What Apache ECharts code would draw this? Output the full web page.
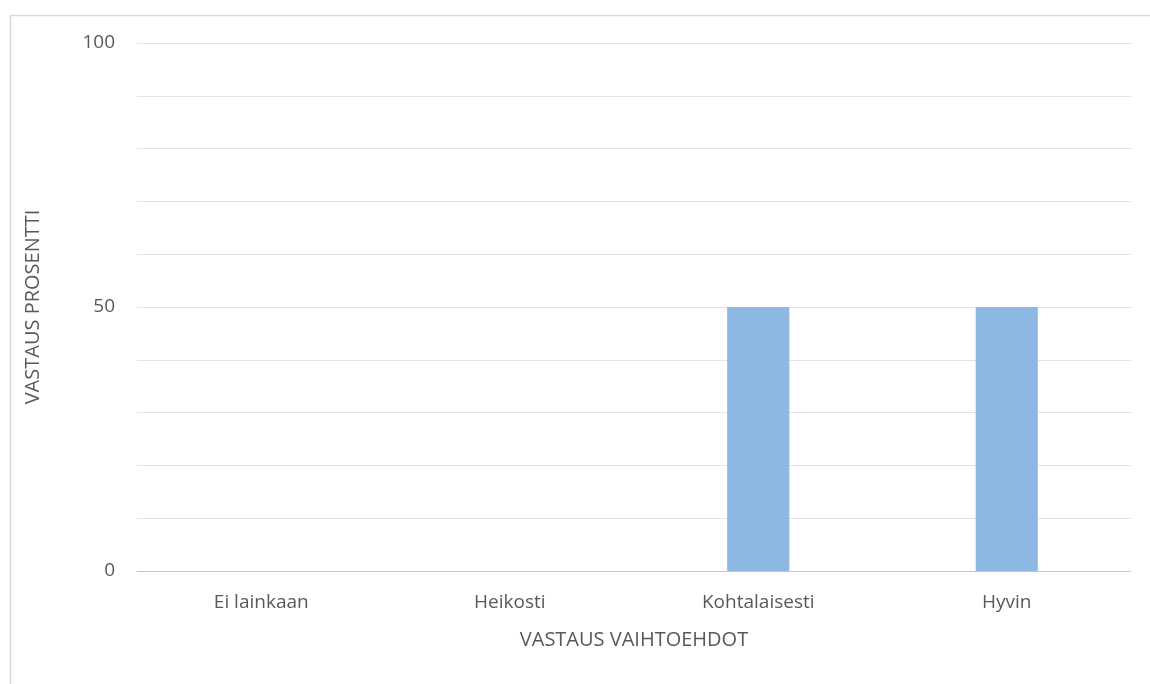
<!DOCTYPE html>
<html>
<head>
<meta charset="utf-8">
<script src="https://cdn.jsdelivr.net/npm/echarts@6/dist/echarts.min.js"></script>
<style>html,body{margin:0;padding:0;background:#fff}#c{width:1150px;height:684px}</style>
</head>
<body>
<div id="c"></div>
<script>
const categories = ['Ei lainkaan', 'Heikosti', 'Kohtalaisesti', 'Hyvin'];
const values = [0, 0, 50, 50];
const yLabels = [0, 50, 100];

const chart = echarts.init(document.getElementById('c'), null, {renderer: 'canvas'});
const font = '"Open Sans", sans-serif';
chart.setOption({
  animation: false,
  backgroundColor: '#fff',
  graphic: [{
    type: 'rect', left: 8, top: 13, z: -1,
    shape: {width: 1300, height: 800},
    style: {fill: 'none', stroke: '#d9d9d9', lineWidth: 1.5}
  }],
  grid: {left: 137, right: 19, top: 43, bottom: 113},
  xAxis: {
    type: 'category',
    data: categories,
    name: 'VASTAUS VAIHTOEHDOT',
    nameLocation: 'middle',
    nameGap: 59,
    nameTextStyle: {color: '#595959', fontSize: 20, fontFamily: font},
    axisLine: {lineStyle: {color: '#c8c8c8', width: 1}},
    axisTick: {show: false},
    axisLabel: {color: '#595959', fontSize: 19, fontFamily: font, margin: 22}
  },
  yAxis: {
    type: 'value',
    min: 0, max: 100, interval: 10,
    name: 'VASTAUS PROSENTTI',
    nameLocation: 'middle',
    nameGap: 94,
    nameTextStyle: {color: '#595959', fontSize: 20, fontFamily: font},
    axisLine: {show: false},
    axisTick: {show: false},
    splitLine: {lineStyle: {color: '#e3e3e3', width: 1}},
    axisLabel: {
      color: '#595959', fontSize: 19, fontFamily: font, margin: 22,
      formatter: v => (yLabels.indexOf(v) >= 0 ? String(v) : '')
    }
  },
  series: [{
    type: 'bar',
    data: values,
    barWidth: '25%',
    itemStyle: {color: '#8db8e2'}
  }]
});
</script>
</body>
</html>
